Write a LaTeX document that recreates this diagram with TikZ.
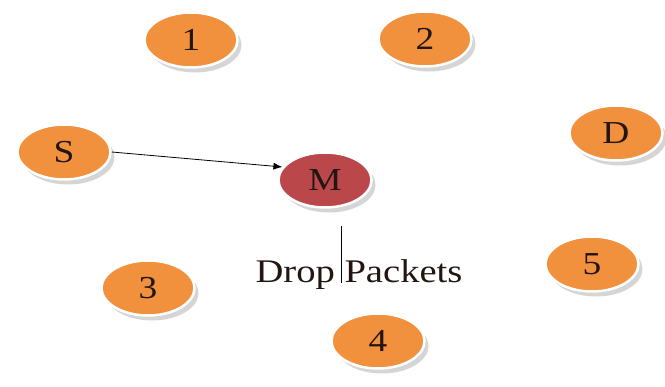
\documentclass[tikz,border=0pt]{standalone}
\usepackage{fontspec}
\setmainfont[FakeStretch=1.17]{Liberation Serif}
\usetikzlibrary{shapes.geometric,shadows,arrows.meta}
\definecolor{orng}{RGB}{241,145,62}
\definecolor{mred}{RGB}{186,72,74}
\definecolor{lbl}{RGB}{35,22,16}
\tikzset{
  nd/.style={ellipse, minimum width=93pt, minimum height=55pt, inner sep=0pt,
    fill=orng, draw=white, line width=2.5pt, text=lbl,
    font=\fontsize{32}{36}\selectfont,
    drop shadow={shadow xshift=4pt, shadow yshift=-5pt, fill=gray!55, opacity=0.6}},
  mnd/.style={nd, fill=mred},
  conn/.style={-{Latex[length=9pt,width=7pt]}, line width=0.8pt, black},
  vline/.style={line width=0.8pt, black}
}
\begin{document}
\begin{tikzpicture}[x=1pt,y=-1pt]
\useasboundingbox (0,0) rectangle (665,387);
\node[nd] (n1) at (191,40) {1};
\node[nd] (n2) at (425,39) {2};
\node[nd] (S) at (64,152) {S};
\node[nd] (D) at (616,133) {D};
\node[mnd] (M) at (325,180) {M};
\node[nd] (n3) at (148,288) {3};
\node[nd] (n4) at (378,341) {4};
\node[nd] (n5) at (592,264) {5};
\draw[conn] (S.east) -- (M.163);
\node[anchor=base, font=\fontsize{33}{38}\selectfont, text=lbl, inner sep=0pt] (dp) at (359,283) {Drop Packets};
\coordinate (vt) at (341,226);
\coordinate (vb) at (341,283);
\draw[vline] (vt) -- (vb);
\end{tikzpicture}
\end{document}
